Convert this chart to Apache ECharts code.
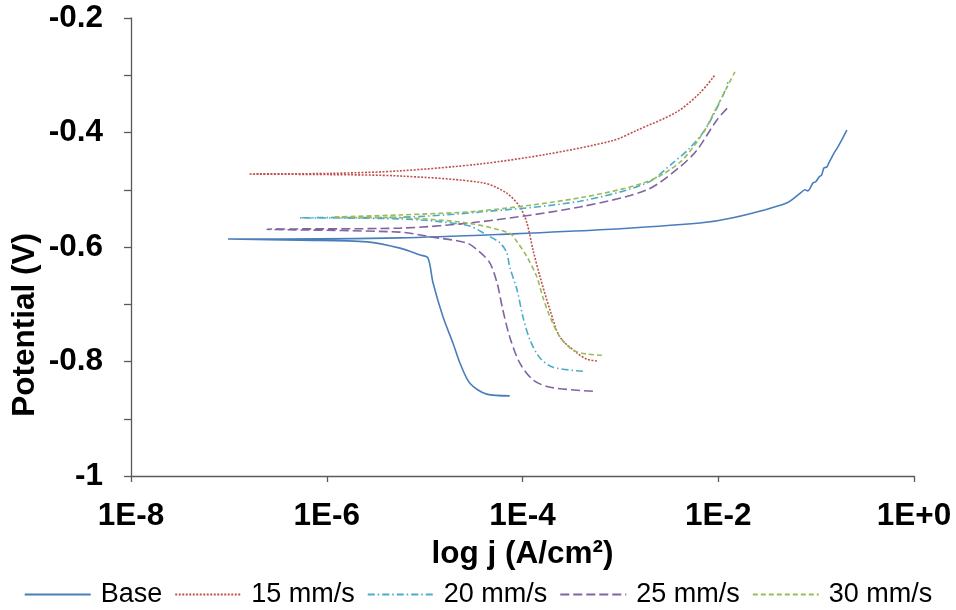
<!DOCTYPE html>
<html>
<head>
<meta charset="utf-8">
<title>Polarization curves</title>
<script src="https://cdn.jsdelivr.net/npm/echarts@6/dist/echarts.min.js"></script>
<style>
  html, body { margin: 0; padding: 0; background: #ffffff; }
  #chart { width: 956px; height: 610px; }
</style>
</head>
<body>
<div id="chart"></div>
<script>
// Potentiodynamic polarization data: current density (A/cm²) vs potential (V),
// each curve traced from the cathodic end through E_corr to the anodic end.
const seriesNames = ['Base', '15 mm/s', '20 mm/s', '25 mm/s', '30 mm/s'];

const baseJ = [7.4e-5, 4.3e-5, 2.9e-5, 2.3e-5, 1.95e-5, 1.54e-5, 1.22e-5, 1.08e-5, 9.0e-6, 5.6e-6, 2.6e-6, 5.3e-7, 9.8e-8,
  2.1e-7, 5.6e-6, 8.0e-5, 6.2e-4, 6.5e-3, 1.41e-2, 5.0e-2, 7.1e-2, 7.7e-2, 8.2e-2, 9.3e-2, 9.9e-2, 0.107, 0.114, 0.120,
  0.129, 0.135, 0.145, 0.155, 0.167, 0.183, 0.206];
const baseE = [-0.860, -0.857, -0.838, -0.803, -0.768, -0.722, -0.663, -0.619, -0.614, -0.602, -0.591, -0.588, -0.586,
  -0.586, -0.584, -0.577, -0.570, -0.558, -0.549, -0.523, -0.504, -0.500, -0.502, -0.488, -0.486, -0.478, -0.474, -0.462,
  -0.460, -0.453, -0.443, -0.434, -0.425, -0.413, -0.396];

const j15 = [5.75e-4, 4.55e-4, 3.6e-4, 2.41e-4, 1.91e-4, 1.51e-4, 1.28e-4, 1.11e-4, 9.4e-5, 6.9e-5, 3.95e-5, 5.6e-6, 1.08e-6,
  1.6e-7, 1.08e-6, 5.6e-6, 3.67e-5, 1.77e-4, 8.4e-4, 1.48e-3, 3.78e-3, 6.49e-3, 9.2e-3];
const e15 = [-0.799, -0.796, -0.785, -0.757, -0.710, -0.652, -0.605, -0.558, -0.530, -0.506, -0.488, -0.476, -0.4735,
  -0.4725, -0.4715, -0.467, -0.455, -0.438, -0.414, -0.396, -0.364, -0.331, -0.300];

const j20 = [4.14e-4, 2.05e-4, 1.51e-4, 1.19e-4, 1.01e-4, 8.8e-5, 7.4e-5, 6.9e-5, 5.9e-5, 4.33e-5, 2.7e-5, 5.6e-6, 5.3e-7,
  5.6e-6, 3.67e-5, 3.86e-4, 1.87e-3, 3.44e-3, 5.13e-3, 7.66e-3, 1.22e-2, 1.25e-2];
const e20 = [-0.817, -0.810, -0.794, -0.762, -0.722, -0.675, -0.635, -0.610, -0.593, -0.579, -0.562, -0.551, -0.549,
  -0.548, -0.539, -0.520, -0.488, -0.453, -0.427, -0.390, -0.321, -0.312];

const j25 = [5.24e-4, 1.91e-4, 1.28e-4, 9.4e-5, 7.4e-5, 6.3e-5, 5.5e-5, 4.65e-5, 3.67e-5, 2.7e-5, 1.22e-5, 5.6e-6, 2.45e-7,
  5.6e-6, 3.67e-5, 3.86e-4, 1.87e-3, 4.06e-3, 6.04e-3, 9.7e-3, 1.28e-2];
const e25 = [-0.852, -0.845, -0.832, -0.803, -0.757, -0.710, -0.663, -0.628, -0.609, -0.593, -0.583, -0.574, -0.569,
  -0.567, -0.556, -0.530, -0.500, -0.460, -0.431, -0.378, -0.355];

const j30 = [6.47e-4, 4.55e-4, 3.27e-4, 2.41e-4, 1.91e-4, 1.61e-4, 1.40e-4, 1.11e-4, 8.8e-5, 7.4e-5, 2.7e-5, 5.6e-6, 1.16e-6,
  5.6e-6, 3.67e-5, 3.86e-4, 1.87e-3, 4.06e-3, 6.97e-3, 9.7e-3, 1.22e-2, 1.48e-2];
const e30 = [-0.789, -0.787, -0.780, -0.757, -0.722, -0.687, -0.652, -0.617, -0.591, -0.576, -0.558, -0.549, -0.548,
  -0.544, -0.537, -0.514, -0.486, -0.452, -0.401, -0.355, -0.322, -0.294];

const xTickExponents = [-8, -6, -4, -2, 0];
const yTickLabels = ['-1', '-0.8', '-0.6', '-0.4', '-0.2'];

const pairs = (xs, ys) => xs.map((x, i) => [x, ys[i]]);

const curves = [
  { j: baseJ, e: baseE, color: '#4A7EBB', dash: 'solid' },
  { j: j15, e: e15, color: '#C0504D', dash: [2, 1.5] },
  { j: j20, e: e20, color: '#4BACC6', dash: [7, 3, 1.5, 3] },
  { j: j25, e: e25, color: '#8064A2', dash: [9, 4] },
  { j: j30, e: e30, color: '#9BBB59', dash: [5, 3] }
];

const font = 'Liberation Sans, Arial, Helvetica, sans-serif';

const chart = echarts.init(document.getElementById('chart'), null, { renderer: 'canvas' });

chart.setOption({
  animation: false,
  backgroundColor: '#ffffff',
  grid: { left: 131, right: 42, top: 18, bottom: 134, containLabel: false },
  legend: {
    top: 576,
    left: 'center',
    itemWidth: 66,
    itemHeight: 10,
    itemGap: 12,
    itemStyle: { opacity: 0 },
    textStyle: { fontFamily: font, fontSize: 27, color: '#000', padding: [0, 0, 0, 5] },
    data: seriesNames
  },
  xAxis: {
    type: 'log',
    logBase: 100,
    min: 1e-8,
    max: 1,
    name: 'log j (A/cm²)',
    nameLocation: 'middle',
    nameGap: 62,
    nameTextStyle: { fontFamily: font, fontSize: 31.5, fontWeight: 'bold', color: '#000' },
    axisLine: { lineStyle: { color: '#595959', width: 1.3 } },
    axisTick: { show: true, inside: false, length: 6, lineStyle: { color: '#595959', width: 1.3 } },
    splitLine: { show: false },
    minorTick: { show: false },
    axisLabel: {
      margin: 24,
      fontFamily: font, fontSize: 31.5, fontWeight: 'bold', color: '#000',
      formatter: (v) => {
        const p = Math.round(Math.log10(v));
        if (!xTickExponents.includes(p)) return '';
        return '1E' + (p >= 0 ? '+' : '-') + Math.abs(p);
      }
    }
  },
  yAxis: {
    type: 'value',
    min: -1,
    max: -0.2,
    interval: 0.1,
    axisLine: { show: true, lineStyle: { color: '#595959', width: 1.3 } },
    axisTick: { show: true, inside: false, length: 7, lineStyle: { color: '#595959', width: 1.3 } },
    splitLine: { show: false },
    axisLabel: {
      margin: 28,
      fontFamily: font, fontSize: 31.5, fontWeight: 'bold', color: '#000',
      formatter: (v) => {
        const s = String(Number(v.toFixed(1)));
        return yTickLabels.includes(s) ? s : '';
      }
    }
  },
  graphic: [{
    type: 'text',
    left: 9,
    top: 233,
    rotation: Math.PI / 2,
    style: {
      text: 'Potential (V)',
      font: 'bold 31.5px ' + font,
      fill: '#000'
    }
  }],
  series: curves.map((c, i) => ({
    name: seriesNames[i],
    type: 'line',
    data: pairs(c.j, c.e),
    showSymbol: false,
    symbol: 'none',
    smooth: 0.3,
    color: c.color,
    lineStyle: { color: c.color, width: 1.6, type: c.dash },
    emphasis: { disabled: true }
  }))
});
</script>
</body>
</html>
